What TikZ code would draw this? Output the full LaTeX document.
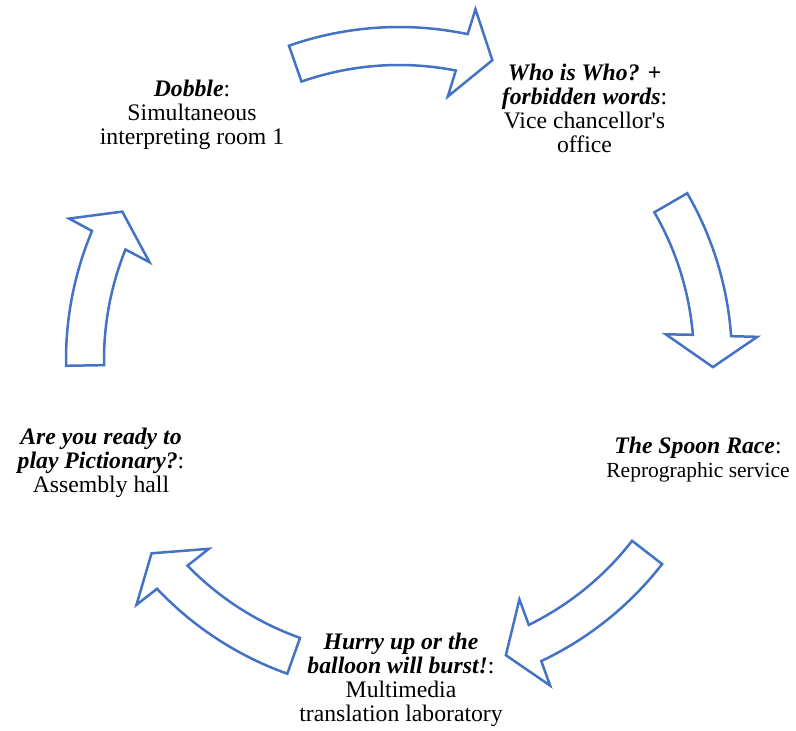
\documentclass[tikz,border=0pt]{standalone}
\usepackage{fontspec}
\setmainfont{Liberation Serif}[Ligatures=TeXOff]
\usepackage{tikz}
\usetikzlibrary{calc}
\definecolor{azulseta}{HTML}{4472C4}

\tikzset{
  seta/.style={draw=azulseta, line width=2.5pt, fill=white, line join=miter},
  rotulo/.style={align=center, inner sep=0pt, font=\fontsize{23.7}{24}\selectfont},
}

\begin{document}
\begin{tikzpicture}[x=1pt,y=1pt]
  \useasboundingbox (0,0) rectangle (796,731);
  % centro do ciclo
  \coordinate (C) at (399,371);
  % setas curvas (angulo da cauda / angulo da base da ponta)
  \foreach \ta/\hb in {109.3/78.5, 30.05/4.5, -37.8/-64.3, -109.6/-136.2, 181/157.6} {
    \pgfmathsetmacro{\nexo}{\hb-0.4}
    \pgfmathsetmacro{\nint}{\hb+0.4}
    \pgfmathsetmacro{\bexo}{\hb-0.8}
    \pgfmathsetmacro{\bint}{\hb+1.0}
    \pgfmathsetmacro{\ponta}{\hb-5.8}
    \draw[seta] ($(C)+(\ta:333)$) arc[start angle=\ta, end angle=\nexo, radius=333]
      -- ($(C)+(\bexo:359)$) -- ($(C)+(\ponta:314)$) -- ($(C)+(\bint:268)$)
      -- ($(C)+(\nint:295)$) arc[start angle=\nint, end angle=\ta, radius=295] -- cycle;
  }
  % textos
  \node[rotulo] (dobble) at (192,616.5)
    {\textit{\textbf{Dobble}}:\\Simultaneous\\interpreting room 1};
  \node[rotulo] (quem) at (584.5,622.5)
    {\textit{\textbf{Who is Who? +}}\\\textit{\textbf{forbidden words}}:\\Vice chancellor's\\office};
  \node[rotulo] (colher) at (698,271)
    {\textit{\textbf{The Spoon Race}}:\\{\fontsize{21.5}{24}\selectfont Reprographic service}};
  \node[rotulo] (balao) at (401,51)
    {\textit{\textbf{Hurry up or the}}\\\textit{\textbf{balloon will burst!}}:\\Multimedia\\translation laboratory};
  \node[rotulo] (pictionary) at (101,268)
    {\textit{\textbf{Are you ready to}}\\\textit{\textbf{play Pictionary?}}:\\Assembly hall};
\end{tikzpicture}
\end{document}
